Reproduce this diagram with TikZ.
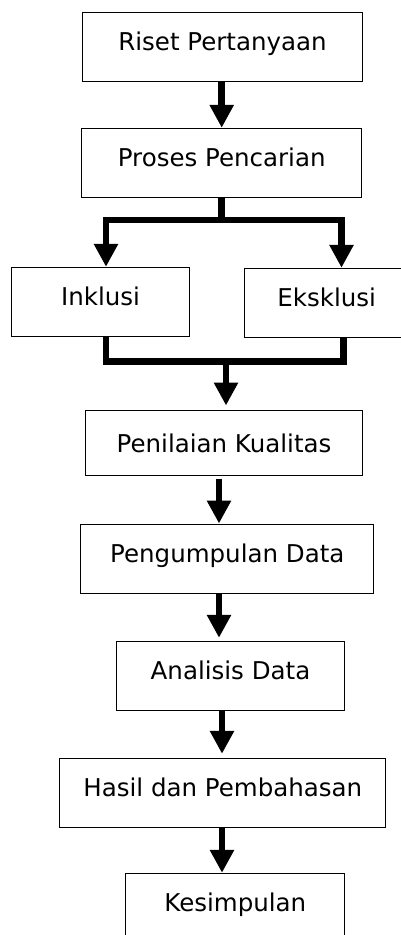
\documentclass[tikz,border=0pt]{standalone}
\usepackage{fontspec}
\setmainfont{DejaVu Sans}
\usetikzlibrary{arrows.meta,calc}
\tikzset{
  box/.style={draw=black, line width=1pt, inner sep=0pt, text height=38pt, text depth=31pt,
    font=\fontsize{24.5}{29}\selectfont},
  conn/.style={line width=6.8pt, line join=miter, line cap=butt},
  arr/.style={conn, -{Triangle[width=23pt,length=23pt]}},
}
\begin{document}
\begin{tikzpicture}[x=1pt,y=-1pt]
\useasboundingbox (0,0) rectangle (401,935);
\clip (0,0) rectangle (401,935);
% boxes
\node[box, minimum width=279.6pt] (riset) at (222.5,46.8) {Riset Pertanyaan};
\node[box, minimum width=280pt] (proses) at (221.7,162.8) {Proses Pencarian};
\node[box, minimum width=177.6pt] (inkl) at (100.5,301.8) {Inklusi};
\node[box, minimum width=165.4pt] (eks) at (326.7,302.8) {Eksklusi};
\node[box, minimum width=276.6pt, text height=42pt, text depth=23pt] (pen) at (224,443.2) {Penilaian Kualitas};
\node[box, minimum width=292.7pt] (peng) at (227.3,558.5) {Pengumpulan Data};
\node[box, minimum width=228.4pt] (anal) at (230.5,676.2) {Analisis Data};
\node[box, minimum width=325.7pt] (hasil) at (222.8,792.8) {Hasil dan Pembahasan};
\node[box, minimum width=219.3pt] (kes) at (235.3,907.8) {Kesimpulan};
% helper coordinates
\coordinate (sT) at (221.7,220);
\coordinate (sL) at (106,220);
\coordinate (sR) at (341.5,220);
\coordinate (mL) at (106,361.3);
\coordinate (mR) at (343.3,361.3);
\coordinate (mC) at (226,361.3);
\coordinate (x3) at (219,0);
\coordinate (x5) at (222,0);
% connectors
\draw[arr] (riset.south -| proses.north) -- (proses.north);
\draw[conn] (proses.south) -- (sT);
\draw[arr] (sT) -- (sL) -- (sL |- inkl.north);
\draw[arr] (sT) -- (sR) -- (sR |- eks.north);
\draw[conn] (mL |- inkl.south) -- (mL) -- (mR) -- (mR |- eks.south);
\draw[arr, shorten >=4.7pt] (mC) -- (mC |- pen.north);
\draw[arr, shorten <=2.6pt] (pen.south -| x3) -- (peng.north -| x3);
\draw[arr, shorten >=3.4pt] (peng.south -| x3) -- (anal.north -| x3);
\draw[arr, shorten >=4pt] (anal.south -| x5) -- (hasil.north -| x5);
\draw[arr] (hasil.south -| x5) -- (kes.north -| x5);
\end{tikzpicture}
\end{document}
